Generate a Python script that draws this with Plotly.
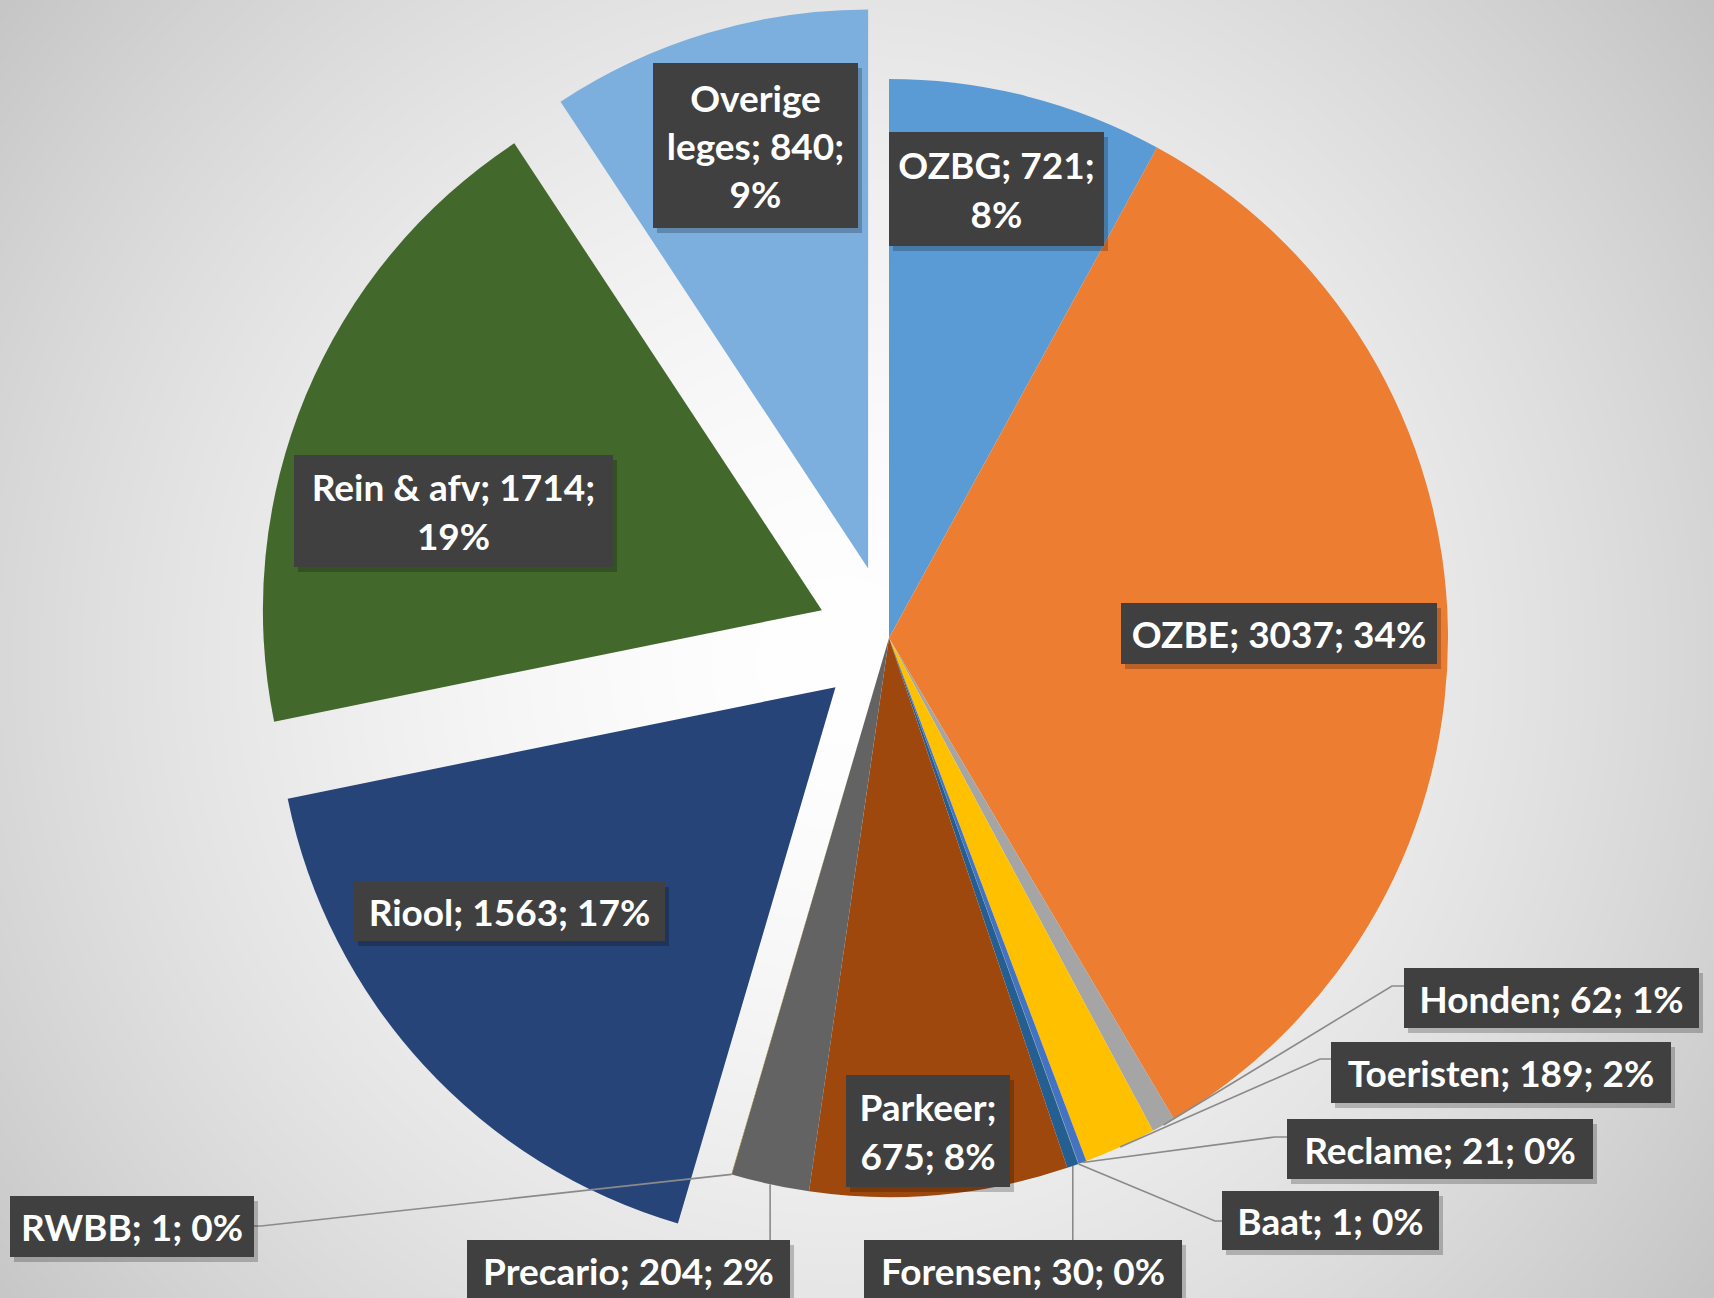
import base64
import math
import struct
import zlib

import numpy as np
import plotly.graph_objects as go

# ---------------- data ----------------
labels = ["OZBG", "OZBE", "Honden", "Toeristen", "Reclame", "Baat", "Forensen",
          "Parkeer", "Precario", "RWBB", "Riool", "Rein & afv", "Overige leges"]
values = [721, 3037, 62, 189, 21, 1, 30, 675, 204, 1, 1563, 1714, 840]
pct_labels = [8, 34, 1, 2, 0, 0, 0, 8, 2, 0, 17, 19, 9]

# ---------------- style ----------------
colors = ["#5B9BD5", "#ED7D31", "#A5A5A5", "#FFC000", "#4472C4", "#70AD47", "#255E91",
          "#9E480E", "#636363", "#997300", "#264478", "#43682B", "#7CAFDD"]
exploded = {"Riool": 0.13, "Rein & afv": 0.13, "Overige leges": 0.13}

W, H = 1714, 1298
CX, CY, R = 889.0, 638.0, 559.0          # wanted pie centre / radius in pixels
FONT = "Lato"
FSIZE = 37
PAD = 5

# line breaks: break after this many tokens
breaks = {"Overige leges": [1, 3], "OZBG": [2], "Rein & afv": [4], "Parkeer": [1]}

# label box centres and box sizes (pixels)
label_pos = {
    "OZBG": (996, 189), "OZBE": (1279, 634), "Honden": (1551, 998),
    "Toeristen": (1501, 1072), "Reclame": (1440, 1149), "Baat": (1330, 1220),
    "Forensen": (1023, 1270), "Parkeer": (928, 1131), "Precario": (628, 1270),
    "RWBB": (132, 1226), "Riool": (509, 911), "Rein & afv": (454, 511),
    "Overige leges": (755, 146),
}
box_size = {
    "OZBG": (215, 114), "OZBE": (316, 61), "Honden": (295, 60),
    "Toeristen": (340, 61), "Reclame": (306, 60), "Baat": (217, 59),
    "Forensen": (318, 60), "Parkeer": (164, 112), "Precario": (323, 60),
    "RWBB": (244, 61), "Riool": (311, 59), "Rein & afv": (319, 112),
    "Overige leges": (205, 165),
}
# leader line points after the slice edge (pixels)
leader_pts = {
    "Honden": [(1392, 986), (1404, 986)],
    "Toeristen": [(1320, 1059), (1332, 1059)],
    "Reclame": [(1275, 1137), (1287, 1137)],
    "Baat": [(1215, 1221), (1222, 1221)],
    "Forensen": [(None, 1240)],
    "Precario": [(None, 1240)],
    "RWBB": [(261, 1226), (254, 1226)],
}

pulls = [exploded.get(l, 0) for l in labels]
max_pull = max(pulls)

# domain so that plotly's pie lands on CX, CY with radius R
half = R * (1 + max_pull)
y0 = 1 - (CY + half) / H
y1 = y0 + 2 * half / H
xmid = CX / W
xspan = 2 * half / W + 0.04
domain_x = [xmid - xspan / 2, xmid + xspan / 2]
domain_y = [y0, y1]


def px2paper(x, y):
    return x / W, 1 - y / H


# ---------------- background gradient image ----------------
def gradient_png():
    w, h = W // 2, H // 2
    yy, xx = np.mgrid[0:h, 0:w].astype(float)
    d = np.hypot(xx * 2 - 840, yy * 2 - 660) / 1080.0
    v = 255 - 58 * np.clip(d, 0, 1.3) ** 1.6
    arr = np.clip(v, 190, 255).astype(np.uint8)
    raw = b"".join(b"\x00" + arr[i].tobytes() for i in range(h))

    def chunk(t, dat):
        c = struct.pack(">I", len(dat)) + t + dat
        return c + struct.pack(">I", zlib.crc32(t + dat) & 0xFFFFFFFF)

    ihdr = struct.pack(">IIBBBBB", w, h, 8, 0, 0, 0, 0)
    png = (b"\x89PNG\r\n\x1a\n" + chunk(b"IHDR", ihdr)
           + chunk(b"IDAT", zlib.compress(raw, 9)) + chunk(b"IEND", b""))
    return "data:image/png;base64," + base64.b64encode(png).decode()


# ---------------- figure ----------------
fig = go.Figure(go.Pie(
    labels=labels, values=values, sort=False, direction="clockwise", rotation=0,
    pull=pulls, marker=dict(colors=colors, line=dict(width=0)),
    textinfo="none", hoverinfo="label+value+percent", showlegend=False,
    domain=dict(x=domain_x, y=domain_y),
))

total = float(sum(values))
cum = 0.0
shapes = []
shadow_ann = []
ann = []
for lab, val, pct in zip(labels, values, pct_labels):
    a0 = cum / total * 360
    cum += val
    a1 = cum / total * 360
    mid = math.radians((a0 + a1) / 2)
    # text
    toks = f"{lab}; {val}; {pct}%".split(" ")
    br = breaks.get(lab, [])
    txt = ""
    for i, t in enumerate(toks):
        txt += t
        if i < len(toks) - 1:
            txt += "<br>" if (i + 1) in br else " "
    lx, ly = label_pos[lab]
    bw, bh = box_size[lab]
    px, py = px2paper(lx, ly)
    common = dict(x=px, y=py, xref="paper", yref="paper", showarrow=False,
                  xanchor="center", yanchor="middle", borderpad=PAD, borderwidth=0,
                  align="center", valign="middle",
                  width=bw - 2 * PAD, height=bh - 2 * PAD)
    shadow_ann.append(dict(common, text=" ", bgcolor="rgba(0,0,0,0.22)",
                           xshift=4, yshift=-5,
                           font=dict(family=FONT, size=FSIZE, color="rgba(0,0,0,0)")))
    ann.append(dict(common, text=txt, bgcolor="#404040",
                    font=dict(family=FONT, size=FSIZE, color="white", weight="bold")))
    # leader line
    if lab in leader_pts:
        sx = CX + R * math.sin(mid)
        sy = CY - R * math.cos(mid)
        pts = [(sx, sy)]
        for (qx, qy) in leader_pts[lab]:
            pts.append((sx if qx is None else qx, qy))
        path = ""
        for i, (qx, qy) in enumerate(pts):
            u, v = px2paper(qx, qy)
            path += ("M" if i == 0 else " L") + f" {u:.5f} {v:.5f}"
        shapes.append(dict(type="path", path=path, xref="paper", yref="paper",
                           line=dict(color="#8A8A8A", width=1.6)))

fig.update_layout(
    width=W, height=H, margin=dict(l=0, r=0, t=0, b=0),
    paper_bgcolor="#EDEDED", plot_bgcolor="rgba(0,0,0,0)",
    images=[dict(source=gradient_png(), xref="paper", yref="paper", x=0, y=1,
                 sizex=1, sizey=1, sizing="stretch", xanchor="left", yanchor="top",
                 layer="below")],
    shapes=shapes,
    annotations=shadow_ann + ann,
)

fig.write_html("out.html", config={"displayModeBar": False},
               post_script="document.body.style.margin='0';document.body.style.overflow='hidden';")
